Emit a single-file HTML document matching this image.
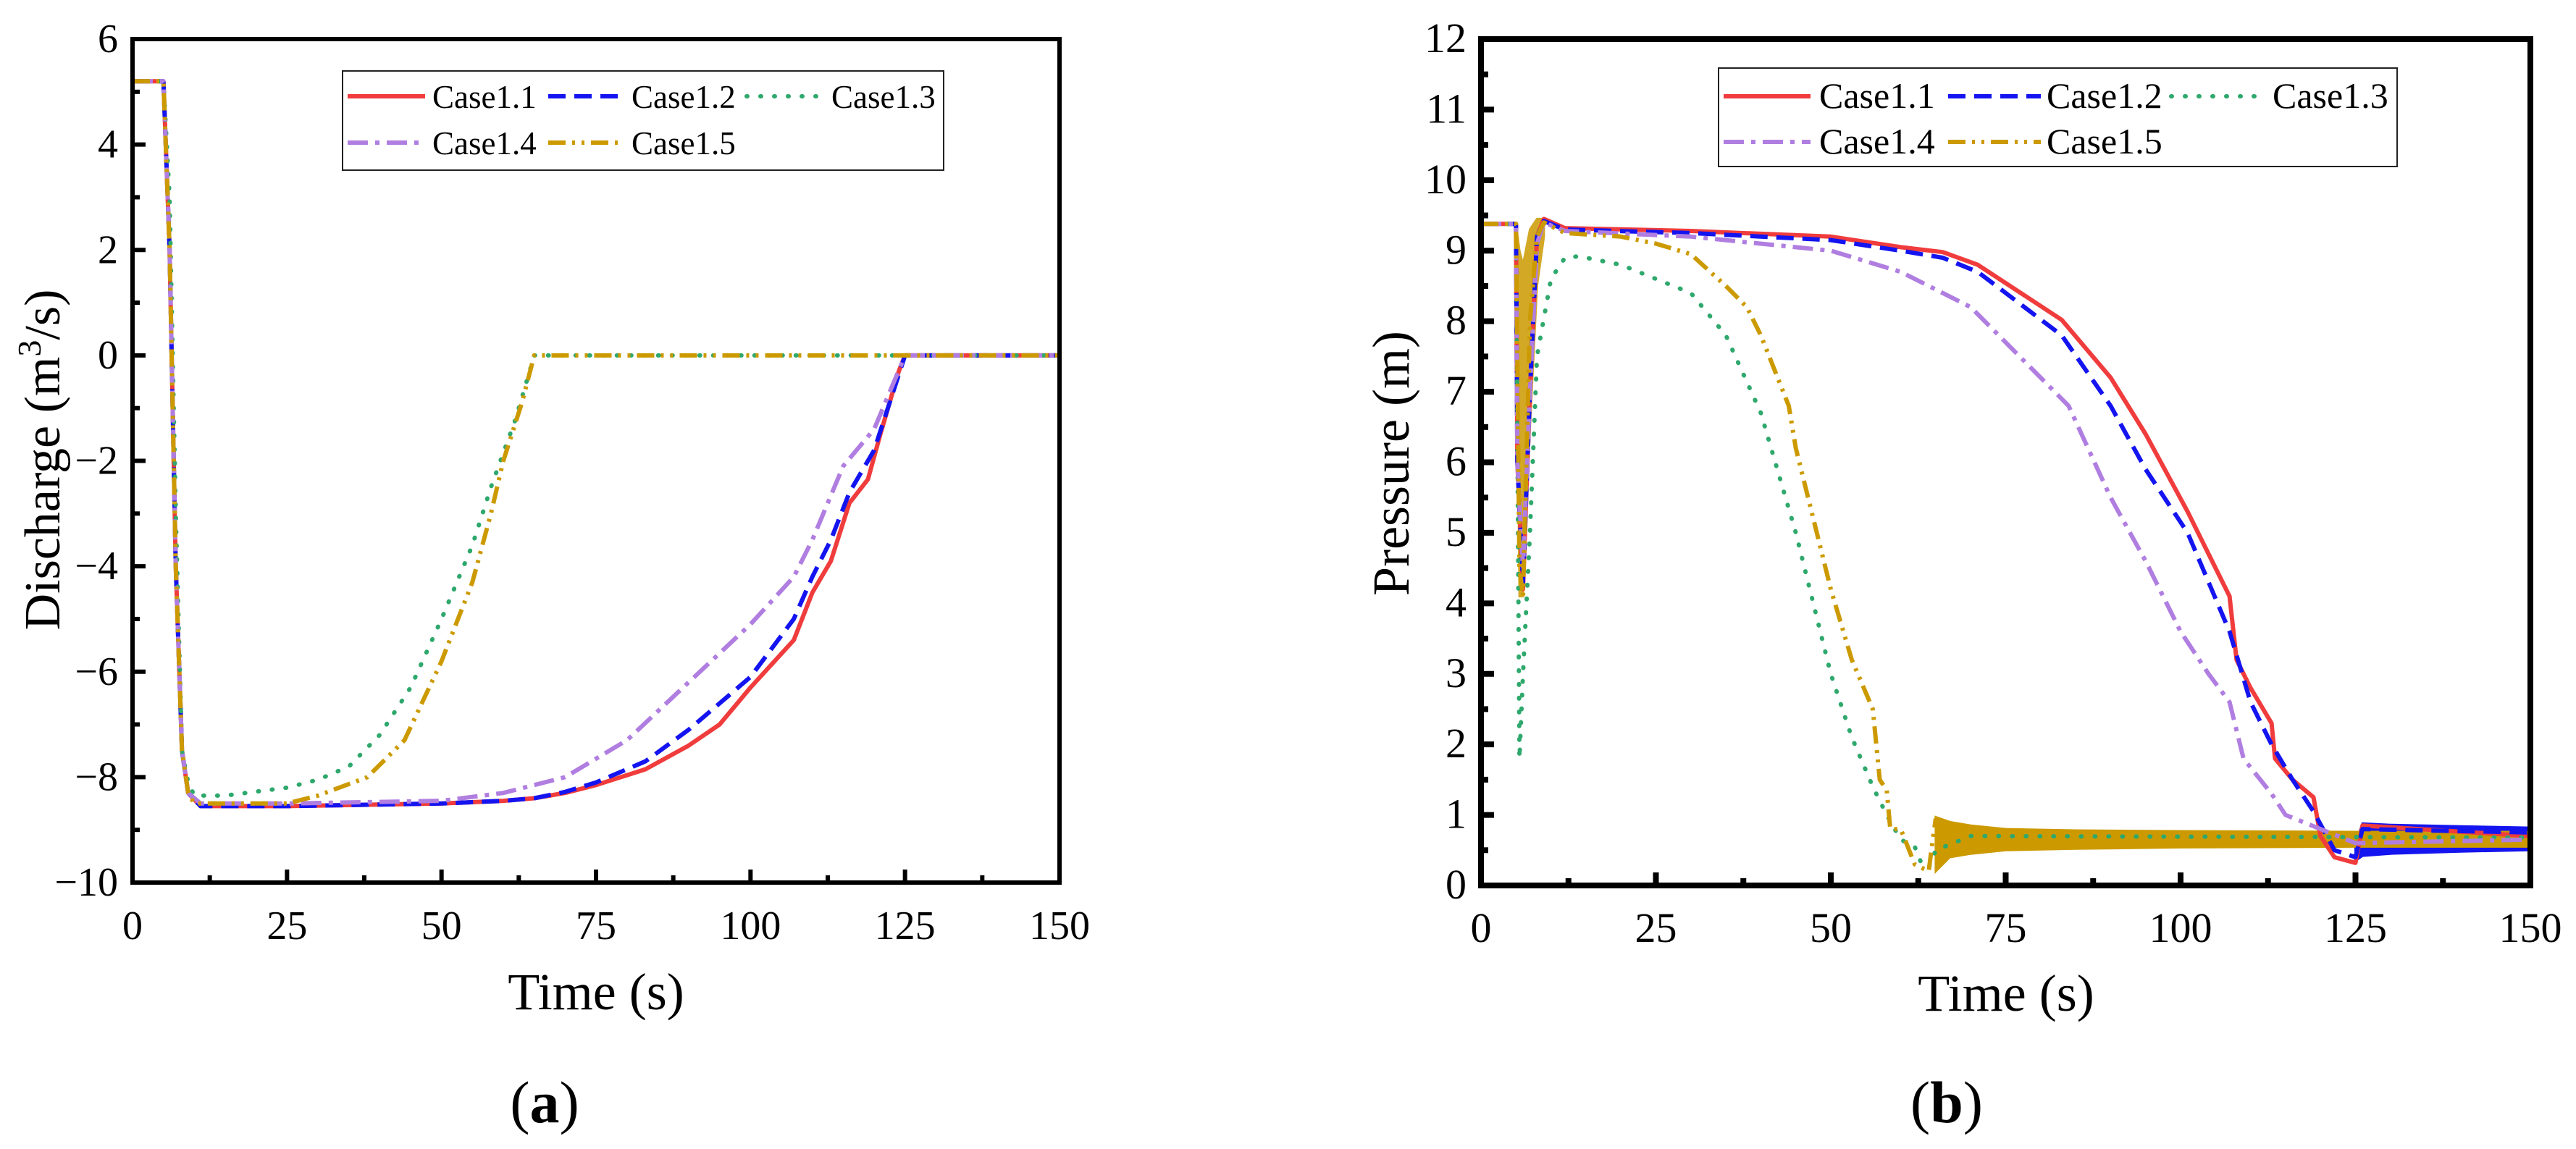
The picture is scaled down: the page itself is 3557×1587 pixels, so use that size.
<!DOCTYPE html>
<html><head><meta charset="utf-8">
<style>
html,body{margin:0;padding:0;background:#fff;}
svg, svg text, svg tspan{font-family:"Liberation Serif","Times New Roman","DejaVu Serif",serif;}
</style></head>
<body>
<svg id="fig" width="3557" height="1582" viewBox="0 0 3557 1582" xmlns="http://www.w3.org/2000/svg" font-family="Liberation Serif, Times New Roman, serif"></svg>
<script>
// ---------- Chart (a) discharge data ----------
const aT11=[0,5,6,7,8,9,11,25,50,60,65,70,75,83,90,95,100,107,110,113,116,119,121,124,125,150];
const aQ11=[5.2,5.2,2,-4,-7.5,-8.3,-8.55,-8.55,-8.5,-8.45,-8.4,-8.3,-8.15,-7.85,-7.4,-7,-6.3,-5.4,-4.5,-3.9,-2.8,-2.35,-1.5,-0.3,0,0];
const aT12=[0,5,6,7,8,9,11,25,50,60,65,70,75,83,90,95,100,107,110,113,116,120,125,150];
const aQ12=[5.2,5.2,2,-4,-7.5,-8.3,-8.55,-8.55,-8.5,-8.45,-8.4,-8.28,-8.1,-7.7,-7.1,-6.6,-6.1,-5,-4.2,-3.5,-2.6,-1.8,0,0];
const aT13=[0,5,6,7,8,9,10,15,25,30,35,40,45,50,55,58,62,65,150];
const aQ13=[5.2,5.2,3,-3,-7.5,-8.1,-8.35,-8.35,-8.2,-8.05,-7.8,-7.2,-6.3,-5,-3.6,-2.5,-1.2,0,0];
const aT14=[0,5,6,7,8,9,11,25,50,60,70,80,90,100,107,110,115,120,125,150];
const aQ14=[5.2,5.2,2,-4,-7.5,-8.3,-8.5,-8.5,-8.45,-8.3,-8,-7.3,-6.2,-5.1,-4.2,-3.5,-2.1,-1.4,0,0];
const aT15=[0,5,6,7,8,9,10,25,30,38,44,50,55,58,60,63,65,150];
const aQ15=[5.2,5.2,2,-4,-7.5,-8.3,-8.5,-8.5,-8.35,-8,-7.3,-5.8,-4.3,-3,-2,-0.9,0,0];
const aXTicks=[0,25,50,75,100,125,150];
const aYTicks=[-10,-8,-6,-4,-2,0,2,4,6];

// ---------- Chart (b) pressure data ----------
const bT11=[0,5,5.2,6,7,8,9,12,30,50,60,66,71,83,90,95,101,107,108,110,113,113.5,116,119,120,122,125,126,150];
const bP11=[9.38,9.38,6,4.2,7,9.2,9.45,9.32,9.28,9.2,9.05,8.98,8.8,8.02,7.2,6.4,5.3,4.1,3.2,2.8,2.3,1.8,1.5,1.25,0.7,0.4,0.32,0.85,0.7];
const bT12=[0,5,5.2,6,7,8,9,12,30,50,60,66,71,83,90,95,101,107,110,113,116,119,122,125,126,150];
const bP12=[9.38,9.38,6,4.3,7,9.2,9.42,9.3,9.25,9.15,9.0,8.9,8.7,7.8,6.8,5.9,5.0,3.6,2.6,2.0,1.5,1.05,0.5,0.4,0.8,0.75];
const bT13=[0,5,5.5,6,7,8,10,12,14,20,25,30,35,40,45,50,53,56,58,60,62,63,64,65,70,150];
const bP13=[9.38,9.38,1.8,3,5,7.5,8.6,8.9,8.92,8.8,8.6,8.4,7.8,6.7,5,3,2.1,1.4,1.0,0.65,0.55,0.3,0.25,0.5,0.7,0.68];
const bT14=[0,5,5.2,6,7,8,9,12,30,50,60,70,80,84,90,95,100,104,107,109,113,115,120,125,150];
const bP14=[9.38,9.38,6,4.5,7,9.1,9.4,9.28,9.2,9.0,8.7,8.2,7.2,6.8,5.5,4.6,3.6,3.0,2.6,1.8,1.3,1.0,0.8,0.6,0.65];
const bT15=[0,5,5.5,6,7,8,9,12,20,25,30,35,38,40,44,45,48,50,53,56,57,58,58.5,60,62,64,64.5,65];
const bP15=[9.38,9.38,4.5,4.1,8,9.2,9.4,9.25,9.2,9.1,8.95,8.5,8.2,7.8,6.8,6.2,5,4.2,3.2,2.5,1.5,1.35,0.8,0.8,0.3,0.2,0.6,0.95];
// oscillation envelopes (time, low, high)
const bBand5T=[65,67,70,75,85,100,125,150];
const bBand5Lo=[0.2,0.4,0.45,0.5,0.52,0.54,0.55,0.55];
const bBand5Hi=[0.97,0.9,0.85,0.8,0.78,0.77,0.76,0.76];
const bBand5eT=[5,5.5,6,7,8,9];
const bBand5eLo=[9.38,4.1,4.1,6.5,8.5,9.2];
const bBand5eHi=[9.38,9.0,8.8,9.3,9.45,9.45];
const bBand2T=[125,126,130,140,150];
const bBand2Lo=[0.35,0.42,0.45,0.48,0.5];
const bBand2Hi=[0.6,0.88,0.86,0.84,0.82];
const bXTicks=[0,25,50,75,100,125,150];
const bYTicks=[0,1,2,3,4,5,6,7,8,9,10,11,12];

const NS="http://www.w3.org/2000/svg";
const FONT='"Liberation Serif","Times New Roman",serif';
const svg=document.getElementById('fig');
function mk(tag,attrs,parent){const e=document.createElementNS(NS,tag);for(const k in attrs)e.setAttribute(k,attrs[k]);if(tag==='text')e.style.fontFamily=FONT;(parent||svg).appendChild(e);return e;}
const fmt=v=>v<0?'\u2212'+Math.abs(v):String(v);

function chart(cfg){
  const g=mk('g',{});
  
  
  const sx=v=>cfg.x0+(v-cfg.xmin)/(cfg.xmax-cfg.xmin)*(cfg.x1-cfg.x0);
  const sy=v=>cfg.y1-(v-cfg.ymin)/(cfg.ymax-cfg.ymin)*(cfg.y1-cfg.y0);
  const clip='clip-'+cfg.name;
  const cp=mk('clipPath',{id:clip},g);
  mk('rect',{x:cfg.x0,y:cfg.y0,width:cfg.x1-cfg.x0,height:cfg.y1-cfg.y0},cp);
  const plot=mk('g',{'clip-path':'url(#'+clip+')'},g);
  
  
  (cfg.bands||[]).forEach(b=>{
    let d='';
    b.t.forEach((t,i)=>{d+=(i?'L':'M')+sx(t).toFixed(1)+','+sy(b.hi[i]).toFixed(1);});
    for(let i=b.t.length-1;i>=0;i--)d+='L'+sx(b.t[i]).toFixed(1)+','+sy(b.lo[i]).toFixed(1);
    const p=mk('path',{d:d+'Z',fill:b.color,stroke:b.color,'stroke-width':3,opacity:b.op||1},plot);
    
    
  });
  cfg.series.forEach(s=>{
    const d=s.t.map((t,i)=>(i?'L':'M')+sx(t).toFixed(1)+','+sy(s.v[i]).toFixed(1)).join('');
    const p=mk('path',{d:d,fill:'none',stroke:s.color,'stroke-width':cfg.lw,'stroke-dasharray':s.dash,'stroke-linejoin':'round','stroke-linecap':s.cap||'butt'},plot);
    
    
  });
  const fr=mk('rect',{x:cfg.x0,y:cfg.y0,width:cfg.x1-cfg.x0,height:cfg.y1-cfg.y0,fill:'none',stroke:'#000','stroke-width':cfg.fw},g);
  
  
  const xa=mk('g',{},g);
  
  
  cfg.xt.forEach((v,i)=>{
    mk('line',{x1:sx(v),x2:sx(v),y1:cfg.y1,y2:cfg.y1-18,stroke:'#000','stroke-width':cfg.fw},xa);
    if(i<cfg.xt.length-1){const m=(v+cfg.xt[i+1])/2;mk('line',{x1:sx(m),x2:sx(m),y1:cfg.y1,y2:cfg.y1-10,stroke:'#000','stroke-width':cfg.fw},xa);}
    const t=mk('text',{x:sx(v),y:cfg.y1+78,'font-size':cfg.fs,'text-anchor':'middle'},xa);
    t.textContent=fmt(v);
    
    
  });
  const ya=mk('g',{},g);
  
  
  cfg.yt.forEach((v,i)=>{
    mk('line',{x1:cfg.x0,x2:cfg.x0+18,y1:sy(v),y2:sy(v),stroke:'#000','stroke-width':cfg.fw},ya);
    if(i<cfg.yt.length-1){const m=(v+cfg.yt[i+1])/2;mk('line',{x1:cfg.x0,x2:cfg.x0+10,y1:sy(m),y2:sy(m),stroke:'#000','stroke-width':cfg.fw},ya);}
    const t=mk('text',{x:cfg.x0-20,y:sy(v)+18,'font-size':cfg.fs,'text-anchor':'end'},ya);
    t.textContent=fmt(v);
    
    
  });
  const L=cfg.leg;
  const lg=mk('g',{},g);
  
  
  mk('rect',{x:L.x,y:L.y,width:L.w,height:L.h,fill:'#fff',stroke:'#222','stroke-width':2},lg);
  cfg.series.forEach((s,i)=>{
    const c=L.pos[i];
    const e=mk('g',{},lg);
    
    
    mk('line',{x1:c[0],x2:c[1],y1:c[3],y2:c[3],stroke:s.color,'stroke-width':cfg.lw,'stroke-dasharray':s.dash,'stroke-linecap':s.cap||'butt'},e);
    const t=mk('text',{x:c[2],y:c[3]+16,'font-size':L.fs},e);
    t.textContent=s.label;
  });
  return {sx,sy};
}

const colors={c1:'#f03c3c',c2:'#1414f0',c3:'#2ea86c',c4:'#b07ee0',c5:'#cc9a00'};
const dashes={c1:'none',c2:'24 12',c3:'1 18',c4:'28 10 6 10',c5:'24 9 4 9 4 9'};

chart({name:'chart-a-discharge',x0:183,x1:1463,y0:54,y1:1219,xmin:0,xmax:150,ymin:-10,ymax:6,
  xt:aXTicks,yt:aYTicks,fs:56,fw:6,lw:6,
  series:[
    {name:'line-case1-1',label:'Case1.1',t:aT11,v:aQ11,color:colors.c1,dash:dashes.c1},
    {name:'line-case1-2',label:'Case1.2',t:aT12,v:aQ12,color:colors.c2,dash:dashes.c2},
    {name:'line-case1-3',label:'Case1.3',t:aT13,v:aQ13,color:colors.c3,dash:dashes.c3,cap:'round'},
    {name:'line-case1-4',label:'Case1.4',t:aT14,v:aQ14,color:colors.c4,dash:dashes.c4},
    {name:'line-case1-5',label:'Case1.5',t:aT15,v:aQ15,color:colors.c5,dash:dashes.c5}],
  leg:{x:473,y:98,w:830,h:137,fs:45,pos:[[480,587,597,133],[757,860,872,133],[1031,1128,1148,133],[480,587,597,197],[757,860,872,197]]}
});
chart({name:'chart-b-pressure',x0:2045,x1:3494,y0:54,y1:1223,xmin:0,xmax:150,ymin:0,ymax:12,
  xt:bXTicks,yt:bYTicks,fs:58,fw:8,lw:6,
  bands:[
    {name:'case1-2-oscillation',t:bBand2T,lo:bBand2Lo,hi:bBand2Hi,color:colors.c2},
    {name:'case1-5-early-oscillation',t:bBand5eT,lo:bBand5eLo,hi:bBand5eHi,color:colors.c5,op:0.85},
    {name:'case1-5-oscillation',t:bBand5T,lo:bBand5Lo,hi:bBand5Hi,color:colors.c5}],
  series:[
    {name:'line-case1-1',label:'Case1.1',t:bT11,v:bP11,color:colors.c1,dash:dashes.c1},
    {name:'line-case1-2',label:'Case1.2',t:bT12,v:bP12,color:colors.c2,dash:dashes.c2},
    {name:'line-case1-3',label:'Case1.3',t:bT13,v:bP13,color:colors.c3,dash:dashes.c3,cap:'round'},
    {name:'line-case1-4',label:'Case1.4',t:bT14,v:bP14,color:colors.c4,dash:dashes.c4},
    {name:'line-case1-5',label:'Case1.5',t:bT15,v:bP15,color:colors.c5,dash:dashes.c5}],
  leg:{x:2373,y:94,w:937,h:136,fs:50,pos:[[2380,2500,2512,133],[2690,2818,2826,133],[2998,3120,3138,133],[2380,2500,2512,196],[2690,2818,2826,196]]}
});

function label(x,y,fs,name,rot){
  const t=mk('text',{x:x,y:y,'font-size':fs,'text-anchor':'middle'});
  if(rot)t.setAttribute('transform','rotate(-90 '+x+' '+y+')');
  
  
  return t;
}
let t=label(82,635,70,'y-axis-title-discharge',true);
t.innerHTML='Discharge (m<tspan dy="-26" font-size="46">3</tspan><tspan dy="26">/s)</tspan>';
t=label(823,1394,72,'x-axis-title-a');t.textContent='Time (s)';
t=label(1945,640,72,'y-axis-title-pressure',true);t.textContent='Pressure (m)';
t=label(2770,1396,72,'x-axis-title-b');t.textContent='Time (s)';
t=label(752,1550,82,'panel-label-a');t.innerHTML='(<tspan font-weight="bold">a</tspan>)';
t=label(2688,1550,82,'panel-label-b');t.innerHTML='(<tspan font-weight="bold">b</tspan>)';
</script>
</body></html>
